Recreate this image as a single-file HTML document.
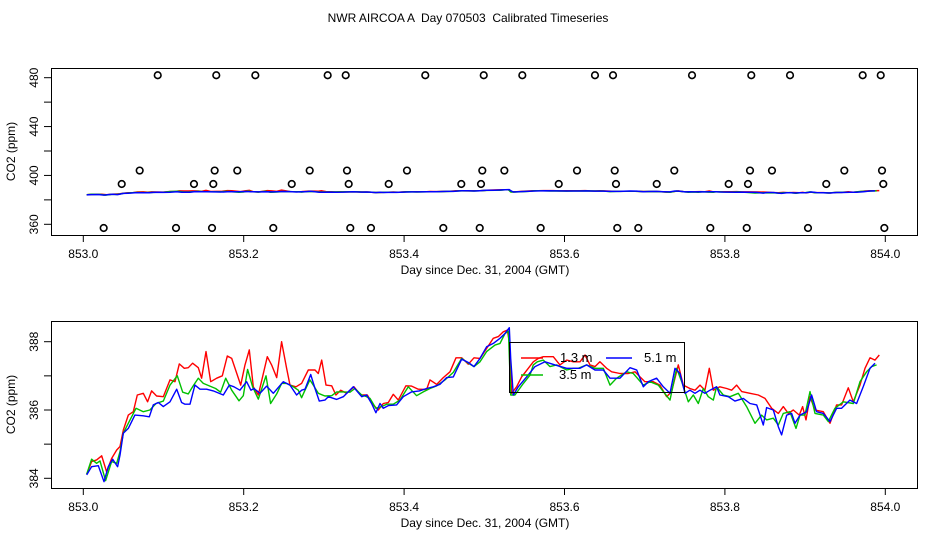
<!DOCTYPE html>
<html><head><meta charset="utf-8"><style>
body{margin:0;background:#fff;}
svg{display:block;font-family:"Liberation Sans",sans-serif;}
</style></head><body>
<svg id="chart" width="936" height="540" xmlns="http://www.w3.org/2000/svg">
<rect width="936" height="540" fill="#fff"/>
<text x="468" y="22" font-size="12" text-anchor="middle" style="white-space:pre" xml:space="preserve">NWR AIRCOA A  Day 070503  Calibrated Timeseries</text>
<g id="top"></g>
<g id="bot"></g>
</svg>
<script>
const xTicks=[853.0,853.2,853.4,853.6,853.8,854.0];
const topYTicks=[360,380,400,420,440,460,480];
const topYLabels=[360,400,440,480];
const botYTicks=[384,385,386,387,388];
const botYLabels=[384,386,388];
const ptTop=[0.0928,0.1658,0.2145,0.3047,0.3272,0.4264,0.4993,0.5474,0.638,0.6605,0.759,0.8329,0.8812,0.9718,0.9943];
const pt404=[0.0703,0.1638,0.192,0.2823,0.3288,0.4036,0.4975,0.525,0.6156,0.6626,0.7369,0.8313,0.8587,0.9489,0.9959];
const pt393=[0.0479,0.138,0.1621,0.2599,0.3309,0.3808,0.4713,0.4959,0.5928,0.6642,0.715,0.8047,0.8288,0.9264,0.9975];
const pt357=[0.0254,0.1156,0.1605,0.2369,0.3329,0.3587,0.4489,0.4943,0.5703,0.6658,0.692,0.7818,0.8272,0.9036,0.9988];
const ptLevels=[482,404,393,357];
const redT=[.0042,.0104,.0166,.0229,.0291,.0353,.0416,.0457,.0499,.0561,.0623,.0673,.0748,.0802,.0852,.0914,.0998,.1081,.1143,.1197,.1259,.1309,.1363,.1434,.1475,.1530,.1588,.1663,.1733,.1796,.1850,.1962,.2016,.2070,.2120,.2182,.2294,.2348,.2411,.2473,.2535,.2577,.2652,.2722,.2806,.2889,.2930,.2972,.3026,.3097,.3150,.3209,.3283,.3375,.3458,.3541,.3616,.3678,.3741,.3803,.3865,.3928,.4023,.4094,.4177,.4281,.4323,.4406,.4489,.4572,.4647,.4718,.4801,.4871,.4946,.5029,.5112,.5175,.5237,.5287,.5312,.5341,.5403,.5465,.5549,.5611,.5673,.5736,.5860,.5943,.6027,.6110,.6193,.6255,.6318,.6380,.6442,.6525,.6588,.6692,.6796,.6879,.6941,.7003,.7107,.7190,.7273,.7336,.7419,.7481,.7564,.7627,.7689,.7751,.7805,.7855,.7938,.8022,.8084,.8146,.8209,.8313,.8416,.8500,.8583,.8666,.8728,.8791,.8853,.8928,.8969,.9011,.9061,.9123,.9227,.9310,.9393,.9455,.9539,.9601,.9684,.9747,.9809,.9871,.9925];
const redV=[384.12,384.49,384.54,384.66,384.19,384.58,384.83,384.93,385.41,385.85,385.95,386.44,386.49,386.24,386.56,386.41,386.39,386.88,386.83,387.35,387.22,387.24,387.37,387.24,386.93,387.71,386.83,386.93,387.00,387.58,387.51,386.73,387.32,387.76,386.68,386.44,387.56,387.32,386.95,388.00,387.22,386.73,386.68,386.78,387.17,387.17,387.07,387.46,386.73,386.71,386.44,386.58,386.49,386.68,386.44,386.44,386.15,386.00,386.19,386.22,386.46,386.29,386.71,386.70,386.61,386.60,386.88,386.75,386.95,387.12,387.53,387.53,387.34,387.53,387.51,387.80,388.10,388.15,388.29,388.34,388.00,386.49,386.68,386.97,387.22,387.41,387.51,387.56,387.56,387.32,387.46,387.41,387.41,387.61,387.32,387.27,387.41,387.22,387.12,387.07,387.07,387.12,386.97,386.83,386.83,386.73,386.39,386.54,387.32,386.73,386.63,386.58,386.73,386.58,387.22,386.58,386.68,386.63,386.58,386.73,386.54,386.49,386.44,386.34,386.05,385.90,386.10,385.90,386.00,385.85,386.10,385.71,386.39,386.00,385.95,385.61,386.15,386.15,386.65,386.24,386.73,387.22,387.53,387.46,387.61];
const greenT=[.0042,.0104,.0166,.0208,.0278,.0353,.0416,.0457,.0499,.0561,.0657,.0748,.0831,.0906,.0998,.1081,.1172,.1239,.1309,.1363,.1434,.1496,.1579,.1650,.1712,.1775,.1850,.1941,.1995,.2049,.2111,.2182,.2278,.2336,.2411,.2473,.2535,.2619,.2681,.2722,.2764,.2826,.2868,.2930,.3013,.3097,.3159,.3242,.3325,.3387,.3471,.3533,.3575,.3649,.3720,.3782,.3865,.3948,.4052,.4156,.4239,.4323,.4406,.4510,.4614,.4718,.4801,.4871,.4946,.5029,.5133,.5196,.5258,.5300,.5329,.5383,.5487,.5570,.5611,.5661,.5736,.5819,.5902,.6027,.6110,.6172,.6276,.6380,.6484,.6567,.6650,.6775,.6858,.6983,.7066,.7170,.7232,.7315,.7398,.7461,.7544,.7606,.7668,.7731,.7793,.7855,.7897,.7980,.8063,.8167,.8271,.8375,.8458,.8520,.8603,.8666,.8728,.8811,.8886,.8936,.8998,.9061,.9123,.9227,.9289,.9372,.9476,.9601,.9684,.9767,.9830,.9892];
const greenV=[384.12,384.56,384.44,384.51,383.93,384.49,384.44,384.78,385.32,385.61,386.05,385.95,386.00,386.19,386.26,386.73,387.00,386.52,386.47,386.68,386.93,386.78,386.70,386.63,386.52,386.93,386.58,386.27,386.42,387.19,386.68,386.32,387.00,386.19,386.47,386.78,386.78,386.68,386.58,386.36,386.58,386.88,386.73,386.49,386.41,386.42,386.53,386.53,386.52,386.63,386.44,386.39,386.34,386.05,386.10,386.17,386.17,386.29,386.68,386.42,386.53,386.63,386.71,386.88,387.10,387.51,387.37,387.27,387.41,387.71,387.90,387.95,388.24,388.31,386.44,386.44,386.78,387.02,387.32,387.41,387.46,387.27,387.32,387.17,387.22,387.22,387.32,387.22,387.22,386.73,386.93,387.12,387.07,386.73,386.83,386.73,386.54,386.29,387.22,386.83,386.24,386.44,386.19,386.63,386.39,386.29,386.68,386.44,386.39,386.49,386.10,385.61,385.85,385.71,385.76,385.56,385.90,385.95,385.46,385.85,385.85,386.54,385.90,385.85,385.66,386.05,386.24,386.19,386.83,387.12,387.27,387.32];
const blueT=[.0042,.0104,.0187,.0258,.0312,.0366,.0428,.0457,.0499,.0561,.0644,.0748,.0823,.0873,.0935,.0998,.1081,.1164,.1226,.1268,.1330,.1392,.1455,.1538,.1621,.1746,.1820,.1879,.1953,.2036,.2090,.2128,.2203,.2286,.2369,.2494,.2577,.2660,.2722,.2764,.2835,.2889,.2943,.3013,.3055,.3159,.3242,.3367,.3471,.3533,.3595,.3649,.3699,.3741,.3803,.3907,.3990,.4094,.4189,.4281,.4364,.4447,.4530,.4614,.4718,.4801,.4871,.4946,.5029,.5112,.5196,.5258,.5312,.5329,.5362,.5424,.5528,.5632,.5757,.5882,.6027,.6193,.6276,.6380,.6484,.6567,.6692,.6817,.6900,.6983,.7045,.7149,.7232,.7315,.7378,.7440,.7502,.7564,.7627,.7689,.7751,.7814,.7897,.7938,.8042,.8125,.8229,.8313,.8396,.8479,.8520,.8603,.8666,.8707,.8770,.8832,.8874,.8936,.9019,.9081,.9144,.9227,.9310,.9393,.9455,.9559,.9642,.9725,.9809,.9871];
const blueV=[384.10,384.34,384.37,383.90,384.34,384.56,384.34,384.68,385.32,385.46,385.85,385.83,385.80,386.15,386.22,386.10,386.24,386.61,386.22,386.17,386.17,386.73,386.61,386.61,386.56,386.44,386.73,386.68,386.58,386.83,386.58,386.63,386.49,386.70,386.49,386.83,386.73,386.44,386.58,386.61,387.04,386.63,386.26,386.29,386.39,386.31,386.39,386.68,386.39,386.44,386.19,385.92,386.19,386.05,386.13,386.15,386.39,386.53,386.56,386.63,386.68,386.75,386.95,386.97,387.49,387.39,387.27,387.51,387.85,387.95,388.10,388.24,388.41,387.51,386.44,386.68,386.97,387.27,387.41,387.32,387.22,387.22,387.32,387.17,387.17,386.93,386.93,387.24,387.17,386.68,386.83,386.93,386.68,386.49,387.22,387.07,386.49,386.58,386.49,386.58,386.49,386.58,386.68,386.44,386.39,386.26,386.34,386.19,386.15,385.56,386.07,386.00,385.51,385.27,385.85,385.90,385.61,385.85,385.95,386.44,385.95,385.90,385.66,386.05,386.05,386.29,386.19,386.68,387.22,387.37];
const legendLabels=["1.3 m","5.1 m","3.5 m"];

const NS="http://www.w3.org/2000/svg";
function mk(tag,attrs,parent){const e=document.createElementNS(NS,tag);for(const k in attrs)e.setAttribute(k,attrs[k]);parent.appendChild(e);return e;}
const X=d=>83.3+(d-853)*802;
const XF=f=>83.3+f*802;
const panels=[
 {g:document.getElementById('top'),top:68,bot:235,Y:v=>224.3-(v-360)*1.2217,ticks:topYTicks,labels:topYLabels,name:'top'},
 {g:document.getElementById('bot'),top:321,bot:488,Y:v=>341.7-(v-388)*34.15,ticks:botYTicks,labels:botYLabels,name:'bottom'}];
const series=[[redT,redV,'#ff0000','red'],[greenT,greenV,'#00c000','green'],[blueT,blueV,'#0000ff','blue']];
panels.forEach(p=>{
 const g=p.g;
 const box=mk('rect',{x:51.5,y:p.top+.5,width:866,height:p.bot-p.top,fill:'none',stroke:'#000','stroke-width':1},g);
 
 
 xTicks.forEach(t=>{
  const l=mk('line',{x1:X(t),x2:X(t),y1:p.bot,y2:p.bot+7,stroke:'#000'},g);
  
  
  const tx=mk('text',{x:X(t),y:p.bot+23,'font-size':12,'text-anchor':'middle'},g);
  
  
  tx.textContent=t.toFixed(1);
 });
 p.ticks.forEach(t=>{
  const l=mk('line',{x1:44,x2:51,y1:p.Y(t),y2:p.Y(t),stroke:'#000'},g);
  
  
 });
 p.labels.forEach(t=>{
  const tx=mk('text',{x:0,y:0,'font-size':12,'text-anchor':'middle',transform:`translate(38,${p.Y(t)}) rotate(-90)`},g);
  
  
  tx.textContent=t;
 });
 const xt=mk('text',{x:485,y:p.bot+39,'font-size':12,'text-anchor':'middle'},g);
 
 
 xt.textContent='Day since Dec. 31, 2004 (GMT)';
 const yt=mk('text',{x:0,y:0,'font-size':12,'text-anchor':'middle',transform:`translate(15,${(p.top+p.bot)/2}) rotate(-90)`},g);
 
 
 yt.textContent='CO2 (ppm)';
 series.forEach(s=>{
  const pts=s[0].map((t,i)=>XF(t).toFixed(1)+','+p.Y(s[1][i]).toFixed(1)).join(' ');
  const pl=mk('polyline',{points:pts,fill:'none',stroke:s[2],'stroke-width':p.name==='top'?1.5:1.4,'stroke-linejoin':'round'},g);
  
  
 });
});
const tp=panels[0];
[ptTop,pt404,pt393,pt357].forEach((arr,k)=>{
 arr.forEach(f=>{
  const c=mk('circle',{cx:XF(f),cy:tp.Y(ptLevels[k]),r:3.3,fill:'none',stroke:'#000','stroke-width':1.6},tp.g);
  
  
 });
});
const bg=panels[1].g;
const lg=mk('g',{},bg);


mk('rect',{x:509.5,y:342.5,width:175,height:50,fill:'none',stroke:'#000'},lg);
const le=[[521,543,358,560,362,'#ff0000'],[606,632,358,644,362,'#0000ff'],[521,543,375,559,379,'#00c000']];
le.forEach((e,i)=>{
 const l=mk('line',{x1:e[0],x2:e[1],y1:e[2],y2:e[2],stroke:e[5],'stroke-width':1.4},lg);
 
 
 const t=mk('text',{x:e[3],y:e[4],'font-size':13},lg);
 
 
 t.textContent=legendLabels[i];
});
</script>
</body></html>
